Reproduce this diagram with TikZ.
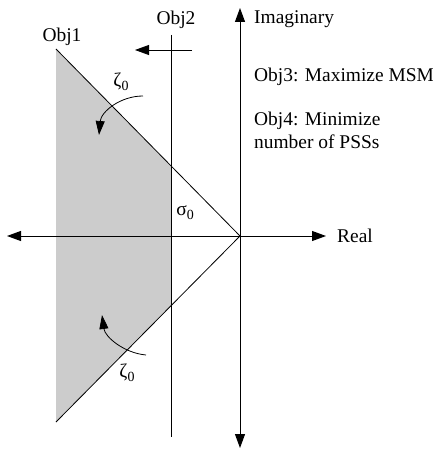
\documentclass[tikz,border=0pt]{standalone}
\usepackage{fontspec}
\setmainfont{Liberation Serif}
\usetikzlibrary{arrows.meta}
\newcommand{\subz}{\raisebox{-0.45ex}{\fontsize{14}{14}\selectfont 0}}
\begin{document}
\begin{tikzpicture}[x=1bp,y=-1bp,
  lbl/.style={font=\fontsize{19.5}{23}\selectfont, inner sep=0pt},
  thin line/.style={line width=0.8bp},
  axis/.style={line width=1bp, -{Triangle[length=14bp,width=10bp]}},
  curvarrow/.style={line width=0.8bp, -{Triangle[length=14bp,width=9bp]}}]
\useasboundingbox (0,0) rectangle (433,450);
% key points
\coordinate (O) at (240,236);
\coordinate (TL) at (56,49);
\coordinate (BL) at (56,422);
\coordinate (P1) at (171,166);
\coordinate (P2) at (171,306);
% shaded region
\fill[black!20] (TL) -- (P1) -- (P2) -- (BL) -- cycle;
% axes
\coordinate (xL) at (7,236);
\coordinate (xR) at (326,236);
\coordinate (yT) at (240,8);
\coordinate (yB) at (240,448);
\draw[axis] (O) -- (xL);
\draw[axis] (O) -- (xR);
\draw[axis] (O) -- (yT);
\draw[axis] (O) -- (yB);
% damping lines
\draw[thin line] (O) -- (TL);
\draw[thin line] (O) -- (BL);
% Obj2 line and arrow
\coordinate (o2T) at (171,35);
\coordinate (o2B) at (171,437);
\draw[thin line] (o2T) -- (o2B);
\coordinate (a2s) at (192,50);
\coordinate (a2e) at (135,50);
\draw[thin line, -{Triangle[length=14bp,width=10bp]}] (a2s) -- (a2e);
% curved arrows
\coordinate (c1s) at (143,96);
\coordinate (c1e) at (99,135);
\draw[curvarrow] (c1s) .. controls (120,96) and (101,112) .. (c1e);
\coordinate (c2s) at (146,355);
\coordinate (c2e) at (102,315);
\draw[curvarrow] (c2s) .. controls (124,353) and (105,337) .. (c2e);
% labels
\node[lbl] (obj1) at (62,37) {Obj1};
\node[lbl] (obj2) at (176,20) {Obj2};
\node[lbl, anchor=west] (imag) at (254,19) {Imaginary};
\node[lbl, anchor=west] (real) at (337,236) {Real};
\node[lbl, anchor=west] (obj3) at (254,77) {Obj3: Maximize MSM};
\node[lbl, anchor=west, align=left] (obj4) at (254,130) {Obj4: Minimize\\number of PSSs};
\node[lbl] (z1) at (121,82) {ζ\subz};
\node[lbl] (s0) at (185,213) {σ\subz};
\node[lbl] (z2) at (127,373) {ζ\subz};
\end{tikzpicture}
\end{document}
